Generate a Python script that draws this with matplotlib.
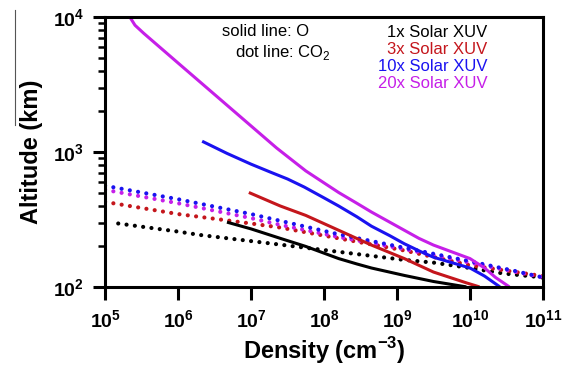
import numpy as np
import matplotlib
matplotlib.use("Agg")
import matplotlib.pyplot as plt
from matplotlib.ticker import FuncFormatter, LogLocator, NullLocator, NullFormatter
from matplotlib.lines import Line2D

plt.rcParams['font.family'] = ['Liberation Sans', 'DejaVu Sans']
plt.rcParams['mathtext.fontset'] = 'custom'
plt.rcParams['mathtext.rm'] = 'Liberation Sans'
plt.rcParams['mathtext.bf'] = 'Liberation Sans:bold'

# log10 density (cm^-3) and log10 altitude (km)
# solid lines: O
o1_x = [6.67, 7.0, 7.4, 7.75, 8.0, 8.2, 8.45, 8.65, 9.1, 9.5, 9.95]
o1_y = [2.48, 2.43, 2.36, 2.30, 2.25, 2.21, 2.17, 2.14, 2.085, 2.04, 2.0]
o3_x = [6.97, 7.4, 7.75, 8.2, 8.65, 9.1, 9.5, 9.95, 10.13]
o3_y = [2.70, 2.60, 2.53, 2.42, 2.31, 2.21, 2.11, 2.03, 2.0]
o10_x = [6.33, 6.67, 7.0, 7.27, 7.5, 7.73, 8.0, 8.2, 8.45, 8.65, 8.9, 9.1,
         9.33, 9.5, 9.75, 10.0, 10.2, 10.41]
o10_y = [3.08, 2.99, 2.91, 2.85, 2.80, 2.74, 2.66, 2.60, 2.52, 2.45, 2.38, 2.32,
         2.26, 2.22, 2.18, 2.14, 2.08, 2.0]
o20_x = [5.34, 5.41, 5.53, 6.0, 6.45, 6.9, 7.35, 7.75, 8.2, 8.45, 8.65, 8.9,
         9.1, 9.3, 9.5, 10.0, 10.2, 10.35, 10.54]
o20_y = [4.0, 3.94, 3.88, 3.66, 3.45, 3.24, 3.03, 2.86, 2.70, 2.62, 2.555, 2.48,
         2.42, 2.36, 2.31, 2.21, 2.14, 2.07, 2.0]

# dotted lines: CO2
c1_x = [5.18, 6.0, 6.3, 7.3, 8.2, 9.1, 9.5, 10.0, 10.45, 11.0]
c1_y = [2.47, 2.41, 2.385, 2.32, 2.26, 2.20, 2.18, 2.14, 2.10, 2.07]
c3_x = [5.0, 6.0, 7.0, 7.4, 8.2, 9.1, 10.0, 11.0]
c3_y = [2.63, 2.54, 2.47, 2.44, 2.36, 2.27, 2.16, 2.08]
c10_x = [5.0, 6.0, 7.0, 7.4, 8.2, 9.1, 10.0, 10.6, 11.0]
c10_y = [2.75, 2.65, 2.54, 2.49, 2.39, 2.29, 2.19, 2.12, 2.07]
c20_x = [5.0, 6.0, 7.0, 7.4, 8.2, 9.1, 10.0, 11.0]
c20_y = [2.72, 2.62, 2.51, 2.46, 2.37, 2.28, 2.18, 2.07]

labels = ["1x Solar XUV", "3x Solar XUV", "10x Solar XUV", "20x Solar XUV"]
colors = ["black", "#c4161c", "#1a12f0", "#c61fe8"]

fig = plt.figure(figsize=(5.65, 3.65), dpi=100)
ax = fig.add_axes([0.186, 0.214, 0.775, 0.739])

dotted = (0, (0.01, 2.0))
co2 = [(c1_x, c1_y), (c3_x, c3_y), (c10_x, c10_y), (c20_x, c20_y)]
# magenta before blue so blue sits on top like the original
for i in [0, 1, 3, 2]:
    x, y = co2[i]
    ax.plot(10 ** np.array(x), 10 ** np.array(y), color=colors[i],
            linestyle=dotted, linewidth=3.0, dash_capstyle='round')

oxy = [(o1_x, o1_y), (o3_x, o3_y), (o10_x, o10_y), (o20_x, o20_y)]
for i, (x, y) in enumerate(oxy):
    ax.plot(10 ** np.array(x), 10 ** np.array(y), color=colors[i],
            linewidth=2.2, solid_capstyle='butt', solid_joinstyle='round')

ax.set_xscale("log")
ax.set_yscale("log")
ax.set_xlim(1e5, 1e11)
ax.set_ylim(1e2, 1e4)

for s in ax.spines.values():
    s.set_linewidth(2.2)

fmt = FuncFormatter(lambda v, p: r'$\mathbf{10^{%d}}$' % round(np.log10(v)))
ax.xaxis.set_major_locator(LogLocator(base=10, numticks=10))
ax.xaxis.set_minor_locator(NullLocator())
ax.xaxis.set_major_formatter(fmt)
ax.yaxis.set_major_locator(LogLocator(base=10, numticks=10))
ax.yaxis.set_minor_locator(LogLocator(base=10, subs=np.arange(2, 10), numticks=10))
ax.yaxis.set_major_formatter(fmt)
ax.yaxis.set_minor_formatter(NullFormatter())
ax.tick_params(which='major', direction='out', length=9, width=2.2, labelsize=14, pad=6)
ax.tick_params(which='minor', direction='out', length=5, width=1.8)
ax.tick_params(axis='x', pad=7)

ax.set_xlabel(r"Density (cm$^{\mathbf{-3}}$)", fontsize=17, fontweight='bold', labelpad=3)
ax.set_ylabel("Altitude (km)", fontsize=17, fontweight='bold', labelpad=7)

ax.text(0.268, 0.948, "solid line: O", transform=ax.transAxes, fontsize=12, va='center')
ax.text(0.297, 0.868, r"dot line: CO$_2$", transform=ax.transAxes, fontsize=12, va='center')
for i, lab in enumerate(labels):
    ax.text(0.873, 0.944 - i * 0.063, lab, transform=ax.transAxes, fontsize=12,
            color=colors[i], ha='right', va='center')

# thin overline left over above the y label in the original
fig.add_artist(Line2D([15 / 565, 15 / 565], [1 - 10 / 365, 1 - 125 / 365],
                      color='#555555', linewidth=0.8))

fig.savefig("out.png", dpi=100)
